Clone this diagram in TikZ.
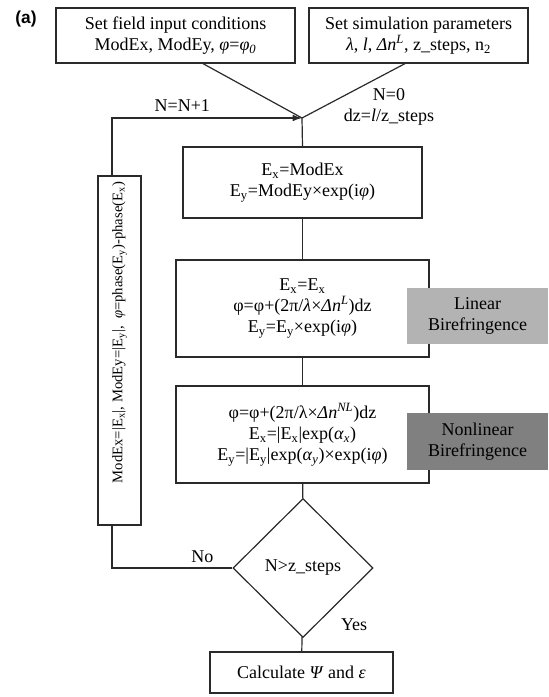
\documentclass[tikz,border=0pt]{standalone}
\usepackage{fontspec}
\setmainfont{Liberation Serif}
\newfontfamily\panelfont{Liberation Sans}
\usetikzlibrary{arrows.meta,positioning,shapes.geometric}
\definecolor{bfLinear}{HTML}{B3B3B3}
\definecolor{bfNonlin}{HTML}{808080}
\definecolor{bfBorder}{HTML}{2A2A2A}

\begin{document}
\begin{tikzpicture}[
        x=0.75pt, y=-0.75pt,
        box/.style={
            draw=bfBorder,
            line width=0.9pt,
            fill=white,
            inner sep=0pt,
            align=center,
            font=\fontsize{13.5}{15.8}\selectfont
        },
        band/.style={
            inner sep=0pt,
            minimum width=105.75pt,
            align=center,
            font=\fontsize{13.5}{15.8}\selectfont
        },
        decision/.style={
            diamond,
            draw=bfBorder,
            line width=0.9pt,
            inner sep=0pt,
            minimum width=105pt,
            minimum height=104.25pt,
            font=\fontsize{13.5}{15.8}\selectfont
        },
        link/.style={
            line width=0.9pt,
            draw=bfBorder
        },
        arrow/.style={
            -{Latex[length=7pt,width=5pt]},
            line width=0.9pt,
            draw=bfBorder
        },
        lbl/.style={
            font=\fontsize{13.5}{15.8}\selectfont,
            align=center
        }
    ]
    \useasboundingbox (0,0) rectangle (549,697);

    \node[font=\panelfont\bfseries\fontsize{13}{15}\selectfont] (panel) at (26,19) {(a)};

    % inputs
    \node[box, minimum width=179.25pt, minimum height=41.25pt] (field) at (175.5,35.5)
        {Set field input conditions\\ ModEx, ModEy, \textit{φ}=\textit{φ}\textsubscript{\textit{0}}};
    \node[box, minimum width=164.25pt, minimum height=41.25pt] (param) at (418.5,35.5)
        {Set simulation parameters\\ \textit{λ}, \textit{l}, \textit{Δn}\textsuperscript{\textit{L}}, z\_steps, n\textsubscript{2}};
    \coordinate (merge) at (302,118);
    \node[lbl] (initlbl) at (389,107) {N=0\\ dz=\textit{l}/z\_steps};

    % propagation steps
    \node[box, minimum width=179.25pt, minimum height=53.25pt] (field0) at (302.5,182.5)
        {E\textsubscript{x}=ModEx\\ E\textsubscript{y}=ModEy×exp(i\textit{φ})};
    \node[box, minimum width=189.75pt, minimum height=72.75pt] (linstep) at (302.5,308.5)
        {E\textsubscript{x}=E\textsubscript{x}\\ φ=φ+(2π/\textit{λ}×\textit{Δn}\textsuperscript{\textit{L}})dz\\ E\textsubscript{y}=E\textsubscript{y}×exp(i\textit{φ})};
    \node[box, minimum width=189.75pt, minimum height=72.75pt] (nlstep) at (302.5,434.5)
        {φ=φ+(2π/λ×\textit{Δn}\textsuperscript{\textit{NL}})dz\\ E\textsubscript{x}=|E\textsubscript{x}|exp(\textit{α}\textsubscript{\textit{x}})\\ E\textsubscript{y}=|E\textsubscript{y}|exp(\textit{α}\textsubscript{\textit{y}})×exp(i\textit{φ})};
    \node[band, fill=bfLinear, minimum height=42pt] (linband) at (477.5,316)
        {Linear\\ Birefringence};
    \node[band, fill=bfNonlin, minimum height=42.75pt] (nlband) at (477.5,441.5)
        {Nonlinear\\ Birefringence};

    \node[decision] (check) at (303,568) {N>z\_steps};
    \node[box, minimum width=137.25pt, minimum height=30.75pt] (result) at (301.5,672.5)
        {Calculate \textit{Ψ} and \textit{ε}};

    % feedback
    \node[box, rotate=90, minimum width=261.75pt, minimum height=32.25pt,
          font=\fontsize{11}{13}\selectfont] (update) at (119.5,350.5)
        {\hspace*{27pt}ModEx=|E\textsubscript{x}|, ModEy=|E\textsubscript{y}|,\ \ \textit{φ}=phase(E\textsubscript{y})-phase(E\textsubscript{x})};
    \coordinate (loopbot) at (112,568);
    \coordinate (looptop) at (112,118);

    \draw[link] ([xshift=20.6pt]field.south) -- (merge);
    \draw[link] ([xshift=-10.1pt]param.south) -- (merge);
    \draw[link] (merge) -- (field0.north);
    \draw[link] (field0) -- (linstep);
    \draw[link] (linstep) -- (nlstep);
    \draw[link] (nlstep) -- (check);
    \draw[link] (check) -- (result);
    \node[lbl, anchor=south west] (yeslbl) at ([xshift=25pt,yshift=2pt]check.south) {Yes};

    \draw[link] (check.west) -- node[lbl, above, pos=0.25] (nolbl) {No} (loopbot)
        -- (loopbot |- update.west);
    \draw[arrow] (looptop |- update.east) -- (looptop)
        -- node[lbl, above, pos=0.37, yshift=1pt] (incrlbl) {N=N+1} (merge);

\end{tikzpicture}
\end{document}
